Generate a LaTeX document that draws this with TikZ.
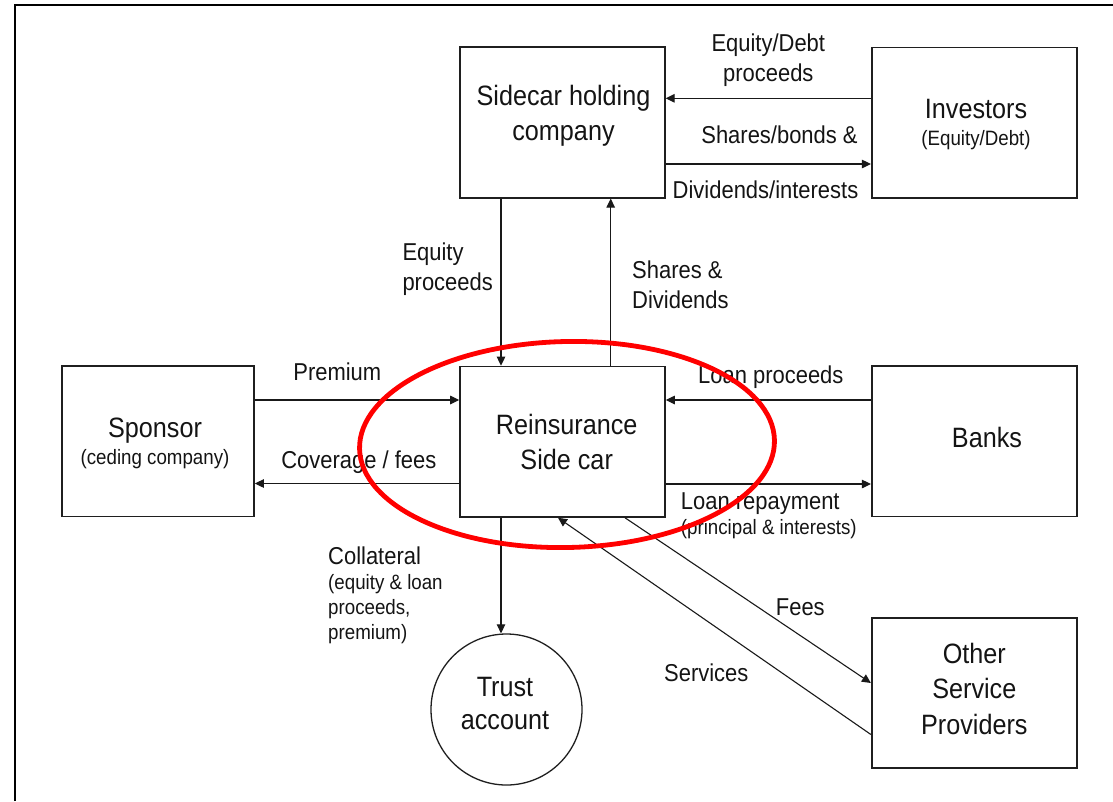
\documentclass[tikz,border=0pt]{standalone}
\usepackage{fontspec}
\setmainfont{Liberation Sans}[FakeStretch=0.9]
\usetikzlibrary{arrows.meta}
\newcommand{\dgBox}{\fontsize{28}{35}\selectfont}
\newcommand{\dgLbl}{\fontsize{24.4}{30}\selectfont}
\newcommand{\dgSm}{\fontsize{20.8}{25}\selectfont}
\begin{document}
\begin{tikzpicture}[x=1pt,y=-1pt,
  box/.style={draw=black!88, line width=1.6pt, minimum width=205pt, minimum height=150.5pt},
  roundbox/.style={draw=black!88, line width=1.3pt, circle, minimum size=151pt},
  btxt/.style={font=\dgBox, align=center, inner sep=0pt, text=black!92},
  lbl/.style={font=\dgLbl, align=center, inner sep=0pt, text=black!92},
  arr/.style={draw=black!90, line width=1.1pt, -{Triangle[length=9pt,width=8.5pt]}},
]
\useasboundingbox (0,0) rectangle (1113,801);
\draw[line width=2.2pt] (15,801) -- (15,5) -- (1113,5);

% boxes
\node[box] (hold) at (562.3,122.5) {};
\node[box] (inv) at (974.2,122.8) {};
\node[box, minimum width=192.3pt] (spon) at (157.9,441.3) {};
\node[box] (rein) at (562.5,441.7) {};
\node[box] (bank) at (974.2,441.3) {};
\node[box] (osp) at (974.2,693) {};
\node[roundbox] (trust) at (506.5,709.5) {};

% box texts
\node[btxt, anchor=north] (holdT) at (563.5,84.6) {Sidecar holding\\company};
\node[btxt, anchor=north] (invT) at (976,99.3) {Investors\\[-8.6pt]{\dgSm (Equity/Debt)}};
\node[btxt, anchor=north] (sponT) at (155,417.5) {Sponsor\\[-8pt]{\dgSm (ceding company)}};
\node[btxt, anchor=north] (reinT) at (566.7,414) {Reinsurance\\Side car};
\node[btxt, anchor=base] (bankT) at (987,447.3) {Banks};
\node[btxt, anchor=north, font=\fontsize{28}{35.8}\selectfont] (ospT) at (974.3,642.6) {Other\\Service\\Providers};
\node[btxt, anchor=north, font=\fontsize{28}{33.3}\selectfont] (trustT) at (505,676.7) {Trust\\account};

% connectors
\draw[arr] (inv.west |- 0,98.3) -- (hold.east |- 0,98.3);
\draw[arr] (hold.east |- 0,164) -- (inv.west |- 0,164);
\draw[arr] (hold.south -| 501,0) -- (rein.north -| 501,0);
\draw[arr] (rein.north -| 610.7,0) -- (hold.south -| 610.7,0);
\draw[arr] (spon.east |- 0,400) -- (rein.west |- 0,400);
\draw[arr] (rein.west |- 0,483.5) -- (spon.east |- 0,483.5);
\draw[arr] (bank.west |- 0,400) -- (rein.east |- 0,400);
\draw[arr] (rein.east |- 0,484) -- (bank.west |- 0,484);
\draw[arr] (rein.south -| 501,0) -- (trust.north -| 501,0);
\draw[arr] (rein.south -| 625,0) -- (osp.west |- 0,683);
\draw[arr] (osp.west |- 0,734.5) -- (rein.south -| 558,0);

% labels
\node[lbl, anchor=north] (lEqD) at (768.3,34) {Equity/Debt\\proceeds};
\node[lbl, anchor=base] (lShB) at (779.5,143.3) {Shares/bonds \&};
\node[lbl, anchor=base] (lDivI) at (765.5,198.3) {Dividends/interests};
\node[lbl, anchor=north west, align=left] (lEqP) at (402.3,242.5) {Equity\\proceeds};
\node[lbl, anchor=north west, align=left] (lShD) at (632,261) {Shares \&\\Dividends};
\node[lbl, anchor=base] (lPrem) at (337.3,380.7) {Premium};
\node[lbl, anchor=base] (lCov) at (358.8,468.3) {Coverage / fees};
\node[lbl, anchor=base] (lLP) at (770.8,383.3) {Loan proceeds};
\node[lbl, anchor=north west, align=left] (lLR) at (680.7,492.5) {Loan repayment\\[-5pt]{\dgSm (principal \& interests)}};
\node[lbl, anchor=north west, align=left, font=\dgSm] (lCol) at (328,547) {{\fontsize{24.4}{25}\selectfont Collateral}\\(equity \& loan\\proceeds,\\premium)};
\node[lbl, anchor=base] (lFees) at (800.3,615) {Fees};
\node[lbl, anchor=base] (lServ) at (706.3,681.7) {Services};

% highlight
\draw[red, line width=4.8pt, rotate around={1.2:(567,444.5)}] (567,444.5) ellipse [x radius=207.5, y radius=103];
\end{tikzpicture}
\end{document}
